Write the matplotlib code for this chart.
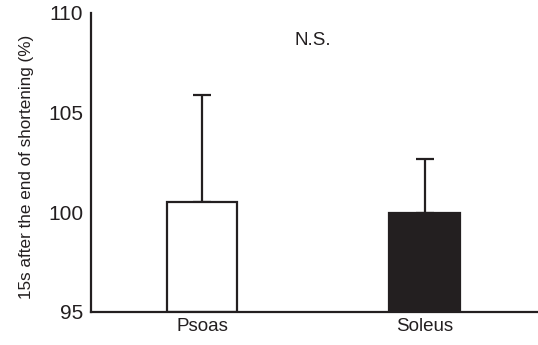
import matplotlib
matplotlib.use('Agg')
import matplotlib.pyplot as plt

# ---------- data ---------- #
muscles = ['Psoas', 'Soleus']
means = [100.52, 99.95]
errUp = [5.35, 2.75]
colors = ['white', '#231f20']
yTicks = [95, 100, 105, 110]

plt.rcParams['font.family'] = ['Liberation Sans', 'DejaVu Sans']

fig = plt.figure(figsize=(5.38, 3.45), dpi=100)
ax = fig.add_axes([91/538, 1 - 312/345, 1 - 91/538, (312 - 13)/345])

pos = list(range(len(muscles)))
ax.bar(pos, [m - 95 for m in means], bottom=95, width=0.315,
       color=colors, edgecolor='#231f20', linewidth=1.6, zorder=2)
ax.errorbar(pos, means, yerr=[[0, 0], errUp], fmt='none',
            ecolor='#231f20', elinewidth=1.6, capsize=6.5, capthick=1.6, zorder=1)

ax.set_xlim(-0.499, 1.51)
ax.set_ylim(95, 110)
ax.set_yticks(yTicks)
ax.set_xticks(pos)
ax.set_xticklabels(muscles, fontsize=13.5, color='#231f20')
ax.tick_params(axis='y', length=0, pad=5.5, labelsize=15, labelcolor='#231f20')
ax.tick_params(axis='x', length=0, pad=4.5)
for s in ['top', 'right']:
    ax.spines[s].set_visible(False)
for s in ['left', 'bottom']:
    ax.spines[s].set_linewidth(1.6)
    ax.spines[s].set_color('#231f20')
ax.set_ylabel('15s after the end of shortening (%)', fontsize=12.3,
              color='#231f20')
ax.yaxis.set_label_coords(-0.128, 0.485)
ax.text(0.5, 108.6, 'N.S.', ha='center', va='center', fontsize=13.5, color='#231f20')

plt.savefig('out.png', dpi=100)
